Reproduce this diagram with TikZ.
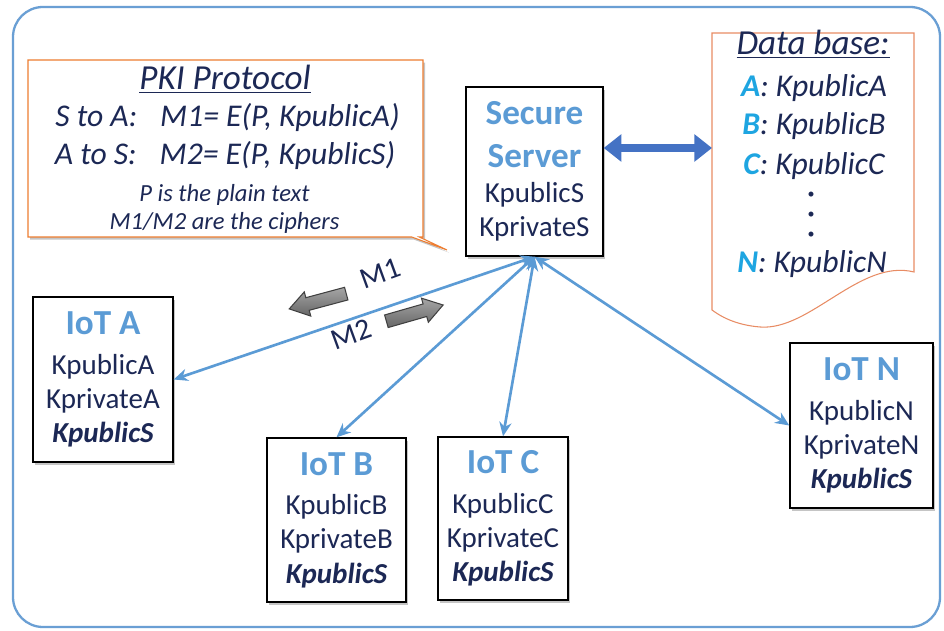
\documentclass[tikz,border=0pt]{standalone}
\usepackage{fontspec}
\setmainfont{Carlito}
\usetikzlibrary{positioning}
\usetikzlibrary{arrows.meta, shapes.arrows, shapes.callouts, shadows}

\definecolor{navy}{RGB}{28,40,85}
\definecolor{iotblue}{RGB}{91,155,213}
\definecolor{linkblue}{RGB}{91,155,213}
\definecolor{dbarrow}{RGB}{68,114,196}
\definecolor{framebl}{RGB}{106,159,212}
\definecolor{pkiorange}{RGB}{237,125,49}
\definecolor{dbline}{RGB}{232,140,100}
\definecolor{dbcyan}{RGB}{30,165,225}

\newcommand{\head}[1]{{\fontsize{20}{24}\selectfont\bfseries\color{iotblue}#1}}
\newcommand{\srvkey}{{\bfseries\itshape KpublicS}}
\newcommand{\dbkey}[1]{{\bfseries\color{dbcyan}#1}}

\tikzset{
  box/.style={draw=black, line width=0.8pt, fill=white, align=center, text=navy,
    font=\fontsize{16.5}{19.5}\selectfont, inner sep=2pt,
    drop shadow={shadow xshift=1.2pt, shadow yshift=-1.5pt, opacity=0.45}},
  link/.style={draw=linkblue, line width=1.5pt, {Stealth[length=8pt,width=7pt]}-{Stealth[length=8pt,width=7pt]}},
  dblink/.style={draw=dbarrow, line width=5pt, {Triangle[length=10pt,width=15pt]}-{Triangle[length=10pt,width=15pt]}},
  msg/.style={single arrow, draw=black!75, top color=black!35, bottom color=black!60, line width=0.6pt,
    minimum height=1.18cm, single arrow head extend=0.12cm, single arrow tip angle=67, inner sep=0.12cm},
  msgtxt/.style={text=navy, font=\fontsize{17}{20}\selectfont, inner sep=0pt},
  pkitxt/.style={anchor=base, text=navy, inner sep=0pt, font=\fontsize{18}{22}\selectfont\itshape},
  dbtxt/.style={anchor=base, text=navy, inner sep=0pt, font=\fontsize{18}{22}\selectfont\itshape}
}

\begin{document}
\begin{tikzpicture}
\fill[white] (0,0) rectangle (18.88,12.62);
\useasboundingbox (0,0) rectangle (18.88,12.62);
\draw[framebl, line width=1.3pt, rounded corners=0.6cm] (0.26,0.08) rectangle (18.8,12.48);

% protocol note
\node[rectangle callout, draw=pkiorange, line width=0.6pt, fill=white, minimum width=7.9cm, minimum height=3.54cm,
  callout absolute pointer={(8.94,7.62)}, callout pointer width=0.15cm,
  drop shadow={shadow xshift=1.2pt, shadow yshift=-1.5pt, opacity=0.45}] (pki) at (4.51,9.65) {};
\node[pkitxt, font=\fontsize{20}{24}\selectfont\itshape] (pkiT) at (4.5,10.82) {\underline{PKI Protocol}};
\node[pkitxt] (pkiL1) at (4.55,10.08) {S to A:\hspace{0.5em} M1= E(P, KpublicA)};
\node[pkitxt] (pkiL2) at (4.5,9.32) {A to S:\hspace{0.5em} M2= E(P, KpublicS)};
\node[pkitxt, font=\fontsize{14}{17}\selectfont\itshape] (pkiL3) at (4.49,8.58) {P is the plain text};
\node[pkitxt, font=\fontsize{14}{17}\selectfont\itshape] (pkiL4) at (4.49,8.02) {M1/M2 are the ciphers};

% server
\node[box, minimum width=2.74cm, minimum height=3.38cm] (srv) at (10.69,9.19)
  {\head{Secure}\\[5pt]\head{Server}\\KpublicS\\KprivateS};

% data base
\draw[dbline, line width=0.6pt, fill=white] (14.24,11.96) -- (18.28,11.96) -- (18.28,7.18)
  .. controls (17.2,7.45) and (16.2,6.0) .. (15.2,6.08)
  .. controls (14.7,6.12) and (14.4,6.3) .. (14.24,6.42) -- cycle;
\node[dbtxt, font=\fontsize{20}{24}\selectfont\itshape] (dbT) at (16.26,11.52) {\underline{Data base:}};
\node[dbtxt] (dbA) at (16.28,10.68) {\dbkey{A}: KpublicA};
\node[dbtxt] (dbB) at (16.28,9.92) {\dbkey{B}: KpublicB};
\node[dbtxt] (dbC) at (16.28,9.12) {\dbkey{C}: KpublicC};
\node[anchor=center, align=center, text=navy, inner sep=0pt, font=\fontsize{8}{11.4}\selectfont] (dots) at (16.22,8.32) {•\\•\\•};
\node[dbtxt] (dbN) at (16.24,7.16) {\dbkey{N}: KpublicN};
\coordinate (dbin) at (14.24,9.66);
\draw[dblink] (srv.east |- dbin) -- (dbin);

% devices
\node[box, minimum width=2.8cm, minimum height=3.3cm] (iotA) at (2.06,5.03)
  {\head{IoT A}\\[3pt]KpublicA\\KprivateA\\\srvkey};
\node[box, minimum width=2.78cm, minimum height=3.28cm] (iotB) at (6.73,2.22)
  {\head{IoT B}\\[3pt]KpublicB\\KprivateB\\\srvkey};
\node[box, minimum width=2.6cm, minimum height=3.26cm] (iotC) at (10.06,2.25)
  {\head{IoT C}\\[3pt]KpublicC\\KprivateC\\\srvkey};
\node[box, minimum width=2.86cm, minimum height=3.3cm] (iotN) at (17.23,4.11)
  {\head{IoT N}\\[3pt]KpublicN\\KprivateN\\\srvkey};

\foreach \t/\a in {iotA/east, iotB/north, iotC/north, iotN/west}
  \draw[link] (srv.south) -- (\t.\a);

% messages
\node[msg, rotate=195] (m1arr) at (6.45,6.62) {};
\node[msg, rotate=16] (m2arr) at (8.2,6.33) {};
\node[msgtxt, rotate=20] (m1) at (7.6,7.15) {M1};
\node[msgtxt, rotate=20] (m2) at (7.03,5.94) {M2};

\end{tikzpicture}
\end{document}
